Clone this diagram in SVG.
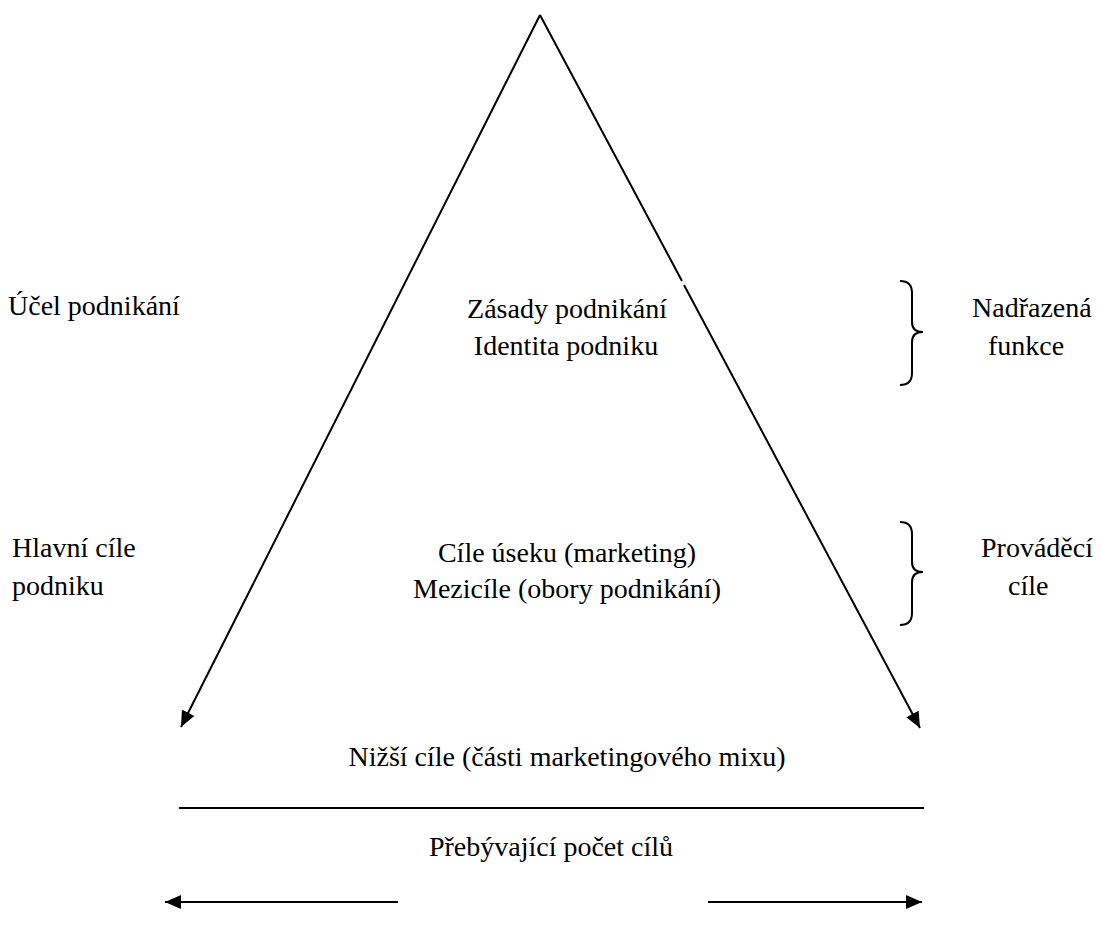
<svg xmlns="http://www.w3.org/2000/svg" width="1102" height="936" viewBox="0 0 1102 936">
<defs>
<marker id="ah" viewBox="0 0 10 10" refX="10" refY="5" markerWidth="16" markerHeight="14" orient="auto" markerUnits="userSpaceOnUse" preserveAspectRatio="none">
<path d="M0,0 L10,5 L0,10 z" fill="#000"/>
</marker>
</defs>
<rect width="1102" height="936" fill="#fff"/>
<g id="connectors" stroke="#000" stroke-width="2" fill="none">
<line x1="540" y1="15" x2="181" y2="727" marker-end="url(#ah)"/>
<line x1="540" y1="15" x2="682" y2="281"/>
<line x1="684" y1="285" x2="920" y2="728" marker-end="url(#ah)"/>
<line x1="179" y1="808" x2="924" y2="808"/>
<line x1="398" y1="902" x2="165" y2="902" marker-end="url(#ah)"/>
<line x1="708" y1="902" x2="922" y2="902" marker-end="url(#ah)"/>
</g>
<g id="brace1" stroke="#000" stroke-width="2" fill="none">
<path d="M900,281 Q912,281 912,293 L912,322 Q912,332 923,332 Q912,332 912,342 L912,373 Q912,385 900,385"/>
</g>
<g id="brace2" stroke="#000" stroke-width="2" fill="none">
<path d="M900,522 Q912,522 912,534 L912,562 Q912,572 923,572 Q912,572 912,582 L912,613 Q912,625 900,625"/>
</g>
<g id="ucel"><text font-family="Times New Roman, Tinos, Liberation Serif, serif" font-size="28" x="8" y="315">Účel podnikání</text></g>
<g id="zasady"><text font-family="Times New Roman, Tinos, Liberation Serif, serif" font-size="28" text-anchor="middle" x="567" y="318">Zásady podnikání</text><text font-family="Times New Roman, Tinos, Liberation Serif, serif" font-size="28" text-anchor="middle" x="566" y="355">Identita podniku</text></g>
<g id="nadrazena"><text font-family="Times New Roman, Tinos, Liberation Serif, serif" font-size="28" x="972" y="317">Nadřazená</text><text font-family="Times New Roman, Tinos, Liberation Serif, serif" font-size="28" x="988" y="355">funkce</text></g>
<g id="hlavni"><text font-family="Times New Roman, Tinos, Liberation Serif, serif" font-size="28" x="12" y="557">Hlavní cíle</text><text font-family="Times New Roman, Tinos, Liberation Serif, serif" font-size="28" x="12" y="595">podniku</text></g>
<g id="cile"><text font-family="Times New Roman, Tinos, Liberation Serif, serif" font-size="28" text-anchor="middle" x="567" y="562">Cíle úseku (marketing)</text><text font-family="Times New Roman, Tinos, Liberation Serif, serif" font-size="28" text-anchor="middle" x="567" y="598">Mezicíle (obory podnikání)</text></g>
<g id="provadeci"><text font-family="Times New Roman, Tinos, Liberation Serif, serif" font-size="28" x="981" y="557">Prováděcí</text><text font-family="Times New Roman, Tinos, Liberation Serif, serif" font-size="28" x="1008" y="595">cíle</text></g>
<g id="nizsi"><text font-family="Times New Roman, Tinos, Liberation Serif, serif" font-size="28" text-anchor="middle" x="567" y="766">Nižší cíle (části marketingového mixu)</text></g>
<g id="prebyvajici"><text font-family="Times New Roman, Tinos, Liberation Serif, serif" font-size="28" text-anchor="middle" x="551" y="856">Přebývající počet cílů</text></g>
</svg>
